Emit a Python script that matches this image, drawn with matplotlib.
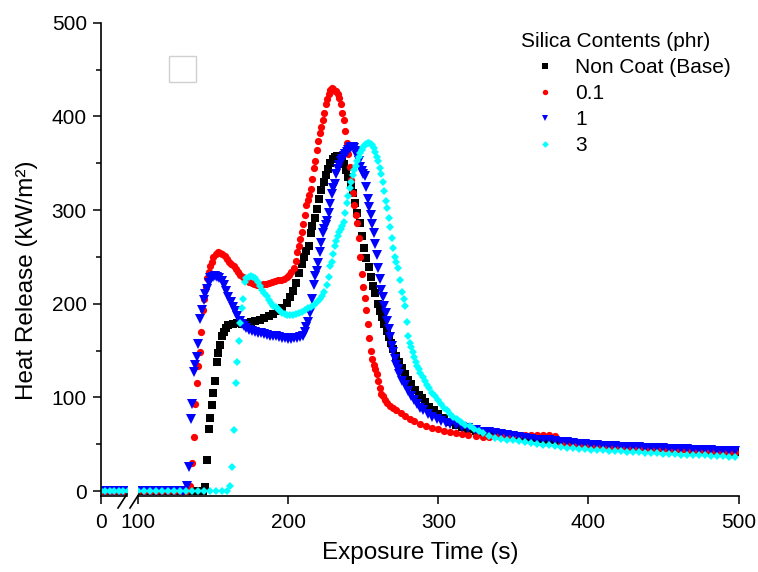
import matplotlib
matplotlib.use('Agg')
import matplotlib.pyplot as plt
from matplotlib.lines import Line2D
from matplotlib.patches import Rectangle

plt.rcParams['font.family'] = ['Liberation Sans', 'DejaVu Sans']

# ---------------- data ----------------
series_labels = ['Non Coat (Base)', '0.1', '1', '3']
legend_title = 'Silica Contents (phr)'
x_tick_values = [100, 200, 300, 400, 500]
y_tick_values = [0, 100, 200, 300, 400, 500]

# left (pre-break) segment, all series at zero
pre_time = [0, 3, 6, 9, 12, 15, 18]
pre_value = [0, 0, 0, 0, 0, 0, 0]

black_time = [100, 104, 108, 112, 116, 120, 124, 128, 132, 136, 140, 143,
              144.7, 146, 147.3, 148, 149, 150, 151.3, 152.7, 153.3, 154.7,
              156, 157, 158.5, 160, 163, 166, 169, 172, 175, 178,
              181, 184, 187, 190, 193, 196, 199, 201, 203, 205,
              207, 209, 210.5, 212, 213.5, 215, 216, 217.5, 219, 220.5,
              222, 223.5, 225, 226.5, 228, 229.5, 231, 232.5, 234, 235.5,
              237, 238.5, 240, 241.5, 243, 244.5, 246, 247.5, 249, 250.5,
              252, 253.5, 255, 256.5, 258, 259.5, 261, 262.5, 264, 265.5,
              267, 268.5, 270, 272, 274, 276, 278, 280, 282, 284.5,
              287, 289, 291, 294, 297, 300, 304, 308, 312, 316,
              320, 325, 330]
black_value = [0, 0, 0, 0, 0, 0, 0, 0, 0, 0, 0, 0,
               4, 33, 66, 78, 92, 105, 117, 138, 147, 156,
               165, 170, 174, 177, 178, 179, 178, 179, 180, 181,
               183, 185, 187, 189, 192, 195, 201, 207, 214, 222,
               233, 242, 250, 256, 262, 275, 283, 292, 301, 312,
               321, 330, 337, 344, 350, 354, 357, 358, 357, 354,
               349, 343, 335, 327, 318, 308, 297, 286, 272, 260,
               249, 239, 228, 219, 211, 200, 192, 186, 178, 171,
               164, 158, 152, 144, 138, 131, 125, 119, 114, 108,
               103, 99, 95, 90, 86, 82, 78, 74, 71, 68,
               66, 64.5, 63]

red_time = [100, 104, 108, 112, 116, 120, 124, 128, 132,
            134.7, 136, 137, 138, 139, 140, 141, 142, 143, 144,
            145, 146, 147, 148, 149, 150, 151.5, 153, 154.5, 156,
            157.5, 159, 160.5, 162, 163.5, 165, 166.5, 168, 169.5, 171,
            172.5, 174, 175.5, 177, 179, 181, 183, 185, 187, 189,
            191, 193, 195, 197, 199, 200.5, 202, 203.5, 205, 206,
            207, 208, 209, 210, 211, 212, 213, 214, 215, 216,
            217, 218, 219, 220, 221, 222, 223, 224, 225, 226,
            227, 228, 229, 230, 231, 232, 233, 234, 235, 236,
            237, 238, 239, 240, 241, 242, 243, 244, 245, 246,
            247, 248, 249, 250, 251, 252, 253, 254, 255, 256,
            257, 258, 259, 260, 261, 262, 263, 264.5, 266, 268,
            270, 272, 275, 278, 281, 284, 288, 292, 296, 300,
            304, 308, 312, 316, 320, 325, 330]
red_value = [0, 0, 0, 0, 0, 0, 0, 0, 0,
             5, 30, 58, 93, 115, 134, 148, 170, 193, 205,
             218, 227, 234, 240, 245, 250, 253, 255, 254, 253,
             251, 248, 245, 242, 240, 237, 234, 231, 229, 227,
             225, 223, 222, 221, 220, 220, 221, 221, 222, 223,
             224, 225, 225, 226, 228, 231, 234, 238, 246, 255,
             262, 269, 277, 285, 295, 305, 311, 316, 322, 333,
             345, 352, 364, 374, 382, 389, 396, 404, 413, 419,
             424, 428, 430, 429, 427, 427, 424, 420, 413, 404,
             396, 384, 372, 360, 346, 332, 318, 305, 295, 286,
             270, 250, 232, 218, 206, 193, 178, 163, 150, 141,
             135, 130, 125, 118, 110, 104, 101, 97, 94, 91,
             89, 87, 83, 80, 77, 75, 72, 69.5, 67.5, 66,
             64, 62.5, 61.5, 61, 60, 59, 58]

blue_time = [100, 104, 108, 112, 116, 120, 124, 128, 130,
             132.5, 134, 135, 135.8, 137, 138, 139, 140, 141.3, 142.5,
             143.5, 144.5, 145.8, 147, 148, 149.5, 151, 152.5, 154, 155.5,
             157, 158.5, 160, 161.5, 163, 164.5, 166, 167.5, 169, 170.5,
             172, 174, 176, 178, 180, 182, 184, 186, 188, 190,
             192, 194, 196, 198, 200, 202, 204, 206, 208, 210,
             211, 212, 213, 214.5, 216, 217, 218, 219, 220, 221,
             222, 223, 224, 225, 226, 227, 228, 229, 230, 231,
             232, 233, 234, 235, 236, 237, 238, 239, 240, 241,
             242, 243, 244, 245, 246, 247, 248, 249, 250, 251,
             252, 253, 254, 255, 256, 257, 258, 259, 260, 261,
             262, 263, 264, 265, 266, 267, 268, 269, 270, 271,
             272, 273, 274, 276, 278, 280, 282, 284, 286, 288,
             290, 293, 296, 299, 302, 305, 308, 312, 316, 320,
             325, 330]
blue_value = [0, 0, 0, 0, 0, 0, 0, 0, 0,
              5, 26, 77, 93, 127, 135, 143, 157, 184, 193,
              204, 210, 216, 222, 227, 229, 230, 229, 227, 224,
              220, 214, 207, 202, 197, 192, 187, 182, 178, 176,
              174, 172, 171, 170, 169, 169, 168, 167, 166, 166,
              165, 164, 163, 163, 162, 162, 163, 163, 164, 166,
              170, 175, 180, 190, 205, 220, 230, 235, 243, 255,
              265, 275, 280, 284, 288, 297, 306, 317, 323, 328,
              338, 344, 348, 352, 355, 358, 360, 362, 364, 366,
              367, 367, 366, 363, 358, 352, 346, 342, 339, 336,
              325, 312, 303, 295, 285, 275, 264, 252, 238, 226,
              215, 207, 198, 190, 182, 173, 164, 155, 148, 141,
              135, 130, 125, 118, 113, 107, 101, 97, 93, 89,
              86, 82, 79, 77, 75, 73, 72, 70, 68.5, 67,
              65, 63.5]

cyan_time = [100, 104, 108, 112, 116, 120, 124, 128, 132, 136, 140, 144, 148, 152, 156, 159,
             161, 162.5, 164, 165.3, 166, 167, 168, 169, 170, 171,
             172, 173.5, 175, 176.5, 178, 179.5, 181, 182.5, 184, 185.5,
             187, 188.5, 190, 191.5, 193, 194.5, 196, 197.5, 199, 201,
             203, 205, 207, 209, 211, 213, 215, 217, 219, 221,
             222.5, 224, 225.5, 227, 228, 229, 230, 231, 232, 233,
             234, 235, 236, 237, 238, 239, 240, 241, 242, 243,
             244, 245, 246, 247, 248, 249, 250, 251, 252, 253,
             254, 255, 256, 257, 258, 259, 260, 261, 262, 263,
             264, 265, 266, 267, 268, 269, 270, 271, 272, 273,
             274.5, 276, 277, 278, 279, 280, 281, 282, 283, 284,
             285, 286, 287, 288, 289.5, 291, 292.5, 294, 296, 298,
             300, 302, 304, 306, 308, 310, 312.5, 315, 318, 321,
             324, 327, 330]
cyan_value = [0, 0, 0, 0, 0, 0, 0, 0, 0, 0, 0, 0, 0, 0, 0, 0,
              5, 26, 65, 115, 138, 160, 179, 195, 205, 223,
              227, 229, 230, 229, 227, 223, 219, 215, 211, 208,
              204, 201, 198, 196, 194, 192, 190, 189, 188, 188,
              188, 189, 190, 191, 193, 195, 197, 199, 202, 205,
              208, 212, 220, 228, 240, 245, 253, 262, 267, 272,
              277, 280, 283, 287, 297, 307, 315, 323, 330, 337,
              343, 347, 352, 357, 361, 364, 367, 369, 371, 372,
              372, 371, 369, 366, 362, 357, 352, 345, 338, 330,
              320, 310, 302, 292, 282, 270, 260, 250, 244, 238,
              225, 212, 205, 198, 180, 165, 158, 154, 148, 143,
              138, 134, 130, 126, 122, 117, 113, 110, 105, 101,
              97, 93, 89, 86, 82, 79, 77, 74, 71, 69,
              66, 64, 62]

# shared tail times (decay region)
tail_time = [334, 338, 342, 346, 350, 354, 358, 362, 366, 370, 374, 378, 382, 386,
             390, 394, 398, 402, 406, 410, 414, 418, 422, 426, 430, 434, 438, 442,
             446, 450, 454, 458, 462, 466, 470, 474, 478, 482, 486, 490, 494, 498]
black_tail = [62.5, 62, 61.5, 61, 60, 59, 58, 57, 56.5, 56, 55, 54, 53.5, 53,
              52, 51.5, 51, 50.5, 50, 49.5, 49, 48.5, 48.5, 48, 47.5, 47, 47, 46.5,
              46, 46, 45.5, 45, 45, 44.5, 44, 44, 43.5, 43, 43, 42.5, 42, 42]
red_tail = [58, 58.5, 59, 59, 59.5, 60, 60, 60, 60, 60, 59.5, 59, 50, 49.5,
            49, 48.5, 48, 48, 47.5, 47, 47, 46.5, 46, 46, 45.5, 45.5, 45, 45,
            44.5, 44.5, 44, 44, 43.5, 43.5, 43, 43, 42.5, 42.5, 42, 42, 41.5, 41.5]
blue_tail = [63, 62, 61, 60, 59, 58, 57, 56, 55, 54.5, 54, 53, 52.5, 52,
             51, 50.5, 50, 49.5, 49, 48.5, 48, 48, 47.5, 47, 47, 46.5, 46, 46,
             45.5, 45.5, 45, 45, 44.5, 44.5, 44, 44, 43.5, 43.5, 43, 43, 43, 42.5]
cyan_tail = [59, 57, 55.5, 54.5, 54, 53, 52, 51, 50, 49.5, 49, 48, 46.5, 46,
             45.5, 45, 44.5, 44, 44, 43.5, 43, 43, 42.5, 42, 42, 41.5, 41, 41,
             40.5, 40, 40, 39.5, 39, 39, 38.5, 38, 38, 37.5, 37, 37, 36.5, 36]

# ---------------- styles ----------------
styles = [
    dict(marker='s', color='#000000', ms=5.4),
    dict(marker='o', color='#ff0000', ms=5.2),
    dict(marker='v', color='#0000ff', ms=6.6),
    dict(marker='D', color='#00ffff', ms=4.5),
]

series = [
    (black_time + tail_time, black_value + black_tail),
    (red_time + tail_time, red_value + red_tail),
    (blue_time + tail_time, blue_value + blue_tail),
    (cyan_time + tail_time, cyan_value + cyan_tail),
]

W, H = 758, 572
fig = plt.figure(figsize=(W / 100, H / 100), dpi=100)


def px_rect(x0, y_top, x1, y_bottom):
    return [x0 / W, 1 - y_bottom / H, (x1 - x0) / W, (y_bottom - y_top) / H]


Y_TOP, Y_BOT = 22.7, 496
ax1 = fig.add_axes(px_rect(100.7, Y_TOP, 126.7, Y_BOT))
ax2 = fig.add_axes(px_rect(137.5, Y_TOP, 738.5, Y_BOT))

handles = []
for (t, v), st, lab in zip(series, styles, series_labels):
    ax1.plot(pre_time, pre_value, linestyle='none', marker=st['marker'],
             color=st['color'], ms=st['ms'], mew=0)
    h, = ax2.plot(t, v, linestyle='none', marker=st['marker'],
                  color=st['color'], ms=st['ms'], mew=0, label=lab)
    handles.append(h)

ylim = (-5.3, 500)
for ax in (ax1, ax2):
    ax.set_ylim(*ylim)
    ax.spines['top'].set_visible(False)
    ax.spines['right'].set_visible(False)
    ax.set_facecolor('none')
    ax.tick_params(axis='x', direction='out', length=6, width=1.1,
                   labelsize=15, pad=6, colors='black')

ax1.set_xlim(0, 17.33)
ax2.set_xlim(99.5, 500)

ax1.set_xticks([0])
ax1.set_xticklabels(['0'])
ax1.set_yticks(y_tick_values)
ax1.set_yticklabels([str(v) for v in y_tick_values])
ax1.set_yticks([50, 150, 250, 350, 450], minor=True)
ax1.tick_params(axis='y', which='major', direction='out', length=6, width=1.1,
                labelsize=15, pad=4)
ax1.tick_params(axis='y', which='minor', direction='out', length=3.5, width=1.1)
ax1.spines['left'].set_linewidth(1.2)
ax1.spines['bottom'].set_linewidth(1.2)

ax2.spines['left'].set_visible(False)
ax2.spines['bottom'].set_linewidth(1.2)
ax2.set_xticks(x_tick_values)
ax2.set_xticklabels([str(v) for v in x_tick_values])
ax2.tick_params(axis='y', which='both', left=False, labelleft=False)

# axis labels
fig.text(420 / W, 1 - 553 / H, 'Exposure Time (s)', ha='center', va='center',
         fontsize=17.5)
fig.text(27 / W, 1 - 280 / H, 'Heat Release (kW/m²)', ha='center', va='center',
         rotation=90, fontsize=17.5)

# axis break marks
for (xa, ya, xb, yb) in [(118, 508, 127, 494), (130, 508, 139, 494)]:
    fig.add_artist(Line2D([xa / W, xb / W], [1 - ya / H, 1 - yb / H],
                          color='black', lw=1.2, transform=fig.transFigure))

# faint empty box
fig.add_artist(Rectangle((168.5 / W, 1 - 82.5 / H), 27.5 / W, 26.5 / H,
                         transform=fig.transFigure, fill=False,
                         edgecolor='#d0d0d0', lw=1))

leg = ax2.legend(handles=handles, labels=series_labels, title=legend_title,
                 loc='upper left', bbox_to_anchor=(521 / W, 1 - 32 / H),
                 bbox_transform=fig.transFigure, frameon=False,
                 fontsize=15, title_fontsize=15, handlelength=2.34,
                 handletextpad=0.25, labelspacing=0.34, borderpad=0,
                 borderaxespad=0, markerscale=0.75, alignment='left',
                 numpoints=1)

fig.savefig('out.png', dpi=100)
